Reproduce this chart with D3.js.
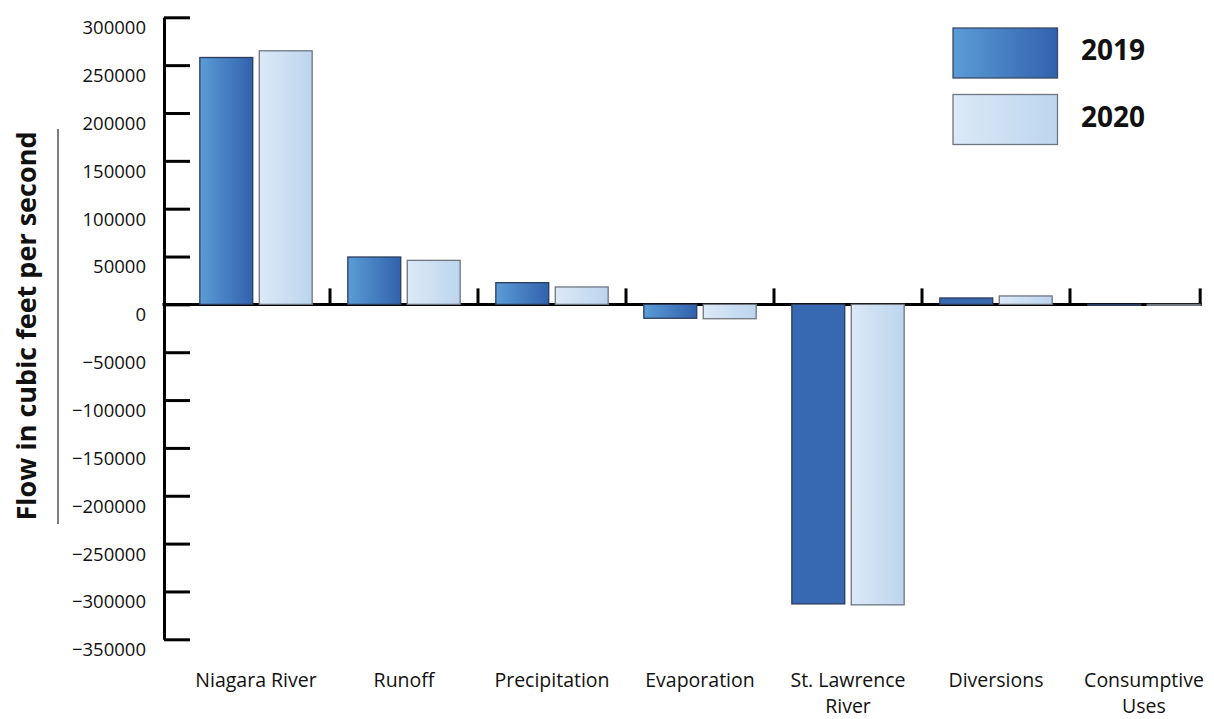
<!DOCTYPE html>
<html>
<head>
<meta charset="utf-8">
<script src="https://cdn.jsdelivr.net/npm/d3@7"></script>
<style>
  body { margin: 0; background: #fff; }
  svg { display: block; }
  text { font-family: "Open Sans", "DejaVu Sans", sans-serif; fill: #111; }
</style>
</head>
<body>
<svg id="chart" width="1214" height="719"></svg>
<script>
// Lake Ontario water budget components, cubic feet per second
const categories = ["Niagara River", "Runoff", "Precipitation", "Evaporation", "St. Lawrence River", "Diversions", "Consumptive Uses"];
const categoryLabelLines = [["Niagara River"], ["Runoff"], ["Precipitation"], ["Evaporation"], ["St. Lawrence", "River"], ["Diversions"], ["Consumptive", "Uses"]];
const years = ["2019", "2020"];
const values2019 = [258000, 49500, 22700, -14500, -313000, 6700, -1000];
const values2020 = [265000, 46000, 18200, -15000, -314000, 8800, -1000];
const yTickValues = [300000, 250000, 200000, 150000, 100000, 50000, 0, -50000, -100000, -150000, -200000, -250000, -300000, -350000];
const yAxisTitle = "Flow in cubic feet per second";

const seriesByYear = { "2019": values2019, "2020": values2020 };
// bars painted in a flat colour instead of the gradient
const flatBars = new Set(["St. Lawrence River|2019", "Diversions|2019"]);

const svg = d3.select("#chart");
const defs = svg.append("defs");

function hGradient(id, from, to) {
  const g = defs.append("linearGradient").attr("id", id)
    .attr("x1", "0%").attr("x2", "100%").attr("y1", "0%").attr("y2", "0%");
  g.append("stop").attr("offset", "0%").attr("stop-color", from);
  g.append("stop").attr("offset", "100%").attr("stop-color", to);
}
hGradient("grad2019", "#5b9cd6", "#3162ad");
hGradient("grad2020", "#dce9f7", "#bcd5ee");

const fills = { "2019": "url(#grad2019)", "2020": "url(#grad2020)" };
const strokes = { "2019": "#2c3c5c", "2020": "#6f7680" };

const y = d3.scaleLinear().domain([-350000, 300000]).range([639.3, 17.3]);
const x0 = d3.scaleBand().domain(categories).range([182, 1218]).padding(0);
const x1 = d3.scaleBand().domain(years).range([0, x0.bandwidth()]).paddingInner(0.11).paddingOuter(0.3);

const yAxisX = 164;
const axisEnd = x0(categories[categories.length - 1]) + x1(years[1]) + x1.bandwidth();

// y axis: line with inward ticks
const yAxisG = svg.append("g").attr("transform", `translate(${yAxisX},0)`)
  .call(d3.axisRight(y).tickValues(yTickValues).tickSize(26).tickSizeOuter(0).tickFormat(""));
yAxisG.select(".domain").attr("stroke", "#000").attr("stroke-width", 3);
yAxisG.selectAll(".tick line").attr("stroke", "#000").attr("stroke-width", 3);

svg.append("g").selectAll("text").data(yTickValues).join("text")
  .attr("x", 146).attr("y", d => y(d) + 12)
  .attr("text-anchor", "end").attr("dominant-baseline", "middle")
  .style("font-size", "18.5px")
  .text(d => d3.format("d")(d));

// y axis title with its rule
svg.append("text")
  .attr("transform", `translate(36,326) rotate(-90)`)
  .attr("text-anchor", "middle")
  .style("font-size", "27px").style("font-weight", "bold")
  .text(yAxisTitle);
svg.append("line").attr("x1", 58).attr("x2", 58).attr("y1", 129).attr("y2", 524)
  .attr("stroke", "#555").attr("stroke-width", 1.5);

// x axis at zero, with upward ticks at category boundaries
const zeroY = y(0);
svg.append("line").attr("x1", yAxisX - 1.5).attr("x2", axisEnd + 1.5)
  .attr("y1", zeroY).attr("y2", zeroY).attr("stroke", "#000").attr("stroke-width", 3);
const xTickPositions = categories.slice(1).map(c => x0(c)).concat([axisEnd]);
svg.append("g").selectAll("line").data(xTickPositions).join("line")
  .attr("x1", d => d).attr("x2", d => d)
  .attr("y1", zeroY).attr("y2", zeroY - 16)
  .attr("stroke", "#000").attr("stroke-width", 3);

// bars
const barData = categories.flatMap((c, i) => years.map(yr => ({ category: c, year: yr, value: seriesByYear[yr][i] })));
svg.append("g").selectAll("rect").data(barData).join("rect")
  .attr("x", d => x0(d.category) + x1(d.year))
  .attr("width", x1.bandwidth())
  .attr("y", d => y(Math.max(0, d.value)))
  .attr("height", d => Math.abs(y(d.value) - y(0)))
  .attr("fill", d => flatBars.has(d.category + "|" + d.year) ? "#3769b3" : fills[d.year])
  .attr("stroke", d => strokes[d.year])
  .attr("stroke-width", 1.3);

// category labels, one text per line
const labelLines = categories.flatMap((c, i) => categoryLabelLines[i].map((line, j) => ({ category: c, line, row: j })));
svg.append("g").selectAll("text").data(labelLines).join("text")
  .attr("text-anchor", "middle")
  .style("font-size", "19.5px")
  .attr("x", d => x0(d.category) + x0.bandwidth() / 2)
  .attr("y", d => 686.5 + d.row * 26.5)
  .text(d => d.line);

// legend
const legend = svg.append("g").selectAll("g").data(years).join("g")
  .attr("transform", (d, i) => `translate(953,${28 + i * 66.5})`);
legend.append("rect").attr("width", 104.5).attr("height", 50)
  .attr("fill", d => fills[d]).attr("stroke", d => d === "2019" ? "#3a4a66" : "#6f7680").attr("stroke-width", 1.3);
legend.append("text").attr("x", 128).attr("y", 25).attr("dominant-baseline", "middle")
  .style("font-size", "28px").style("font-weight", "bold")
  .text(d => d);
</script>
</body>
</html>
